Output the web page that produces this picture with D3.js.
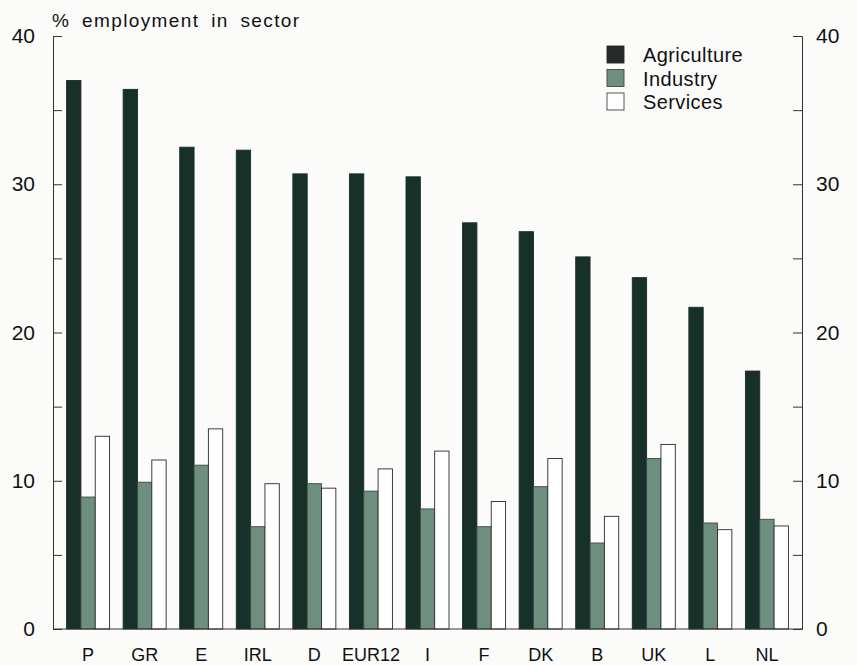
<!DOCTYPE html>
<html>
<head>
<meta charset="utf-8">
<script src="https://cdn.jsdelivr.net/npm/d3@7"></script>
<style>
  html, body { margin: 0; padding: 0; background: #fbfbfa; }
  svg { display: block; font-family: Arial, "Liberation Sans", sans-serif; }
</style>
</head>
<body>
<svg id="chart" width="857" height="665"></svg>
<script>
// Employment share by sector, EU member states
const countries   = ["P", "GR", "E", "IRL", "D", "EUR12", "I", "F", "DK", "B", "UK", "L", "NL"];
const agriculture = [37.0, 36.4, 32.5, 32.3, 30.7, 30.7, 30.5, 27.4, 26.8, 25.1, 23.7, 21.7, 17.4];
const industry    = [8.9, 9.9, 11.05, 6.9, 9.8, 9.3, 8.1, 6.9, 9.6, 5.8, 11.5, 7.15, 7.4];
const services    = [13.0, 11.4, 13.5, 9.8, 9.5, 10.8, 12.0, 8.6, 11.5, 7.6, 12.45, 6.7, 6.95];
const seriesNames = ["Agriculture", "Industry", "Services"];
const majorTicks  = [0, 10, 20, 30, 40];
const minorTicks  = [5, 15, 25, 35];

const seriesValues = [agriculture, industry, services];
const fills   = ["#17302a", "#6e8f80", "#ffffff"];
const strokes = ["#1d2a25", "#3a4a42", "#2a2a2a"];

const svg = d3.select("#chart");
const plotLeft = 53, plotRight = 802, plotTop = 36, plotBottom = 629;

const x = d3.scaleBand().domain(countries).range([plotLeft, plotRight]).padding(0.24);
const xs = d3.scaleBand().domain(seriesNames).range([0, x.bandwidth()]);
const y = d3.scaleLinear().domain([0, 40]).range([plotBottom, plotTop]);

// bars
const groups = svg.append("g").selectAll("g")
  .data(countries)
  .join("g")
  .attr("transform", d => `translate(${x(d)},0)`);

groups.selectAll("rect")
  .data((c, i) => seriesNames.map((s, k) => ({ s, k, v: seriesValues[k][i] })))
  .join("rect")
  .attr("x", d => xs(d.s))
  .attr("width", xs.bandwidth())
  .attr("y", d => y(d.v))
  .attr("height", d => y(0) - y(d.v))
  .attr("fill", d => fills[d.k])
  .attr("stroke", d => strokes[d.k])
  .attr("stroke-width", 0.9);

// axes: ticks point inward on both sides
const axisColor = "#333";
const tickLen = 9;

const leftAxis = d3.axisLeft(y).tickValues(majorTicks).tickSize(-tickLen).tickPadding(18).tickFormat(d3.format("d"));
const rightAxis = d3.axisRight(y).tickValues(majorTicks).tickSize(-tickLen).tickPadding(14).tickFormat(d3.format("d"));
const leftMinor = d3.axisLeft(y).tickValues(minorTicks).tickSize(-tickLen).tickFormat("");
const rightMinor = d3.axisRight(y).tickValues(minorTicks).tickSize(-tickLen).tickFormat("");

function styleAxis(g, fs) {
  g.select(".domain").attr("stroke", axisColor).attr("stroke-width", 1);
  g.selectAll(".tick line").attr("stroke", axisColor).attr("stroke-width", 1);
  g.selectAll(".tick text").attr("fill", "#111").style("font-size", fs + "px")
    .attr("font-family", "Arial, 'Liberation Sans', sans-serif");
}

svg.append("g").attr("transform", `translate(${plotLeft},0)`).call(leftAxis).call(g => styleAxis(g, 21));
svg.append("g").attr("transform", `translate(${plotLeft},0)`).call(leftMinor).call(g => styleAxis(g, 21)).select(".domain").remove();
svg.append("g").attr("transform", `translate(${plotRight},0)`).call(rightAxis).call(g => styleAxis(g, 21));
svg.append("g").attr("transform", `translate(${plotRight},0)`).call(rightMinor).call(g => styleAxis(g, 21)).select(".domain").remove();

// baseline
svg.append("line")
  .attr("x1", plotLeft).attr("x2", plotRight)
  .attr("y1", y(0)).attr("y2", y(0))
  .attr("stroke", axisColor).attr("stroke-width", 1);

// category labels
const bottomAxis = d3.axisBottom(x).tickSize(0).tickPadding(19);
svg.append("g").attr("transform", `translate(0,${plotBottom})`).call(bottomAxis)
  .call(g => g.select(".domain").remove())
  .call(g => g.selectAll(".tick text").attr("fill", "#111").style("font-size", "18px")
    .attr("font-family", "Arial, 'Liberation Sans', sans-serif"));

// title
svg.append("text")
  .attr("x", 52).attr("y", 27)
  .attr("fill", "#111")
  .style("font-size", "19px")
  .style("letter-spacing", "1.4px")
  .style("word-spacing", "5px")
  .text("% employment in sector");

// legend
const legend = svg.append("g").attr("transform", "translate(607,46)");
const legendItems = legend.selectAll("g")
  .data(seriesNames)
  .join("g")
  .attr("transform", (d, i) => `translate(0,${i * 23.5})`);
legendItems.append("rect")
  .attr("width", 17).attr("height", 17)
  .attr("fill", (d, i) => i === 0 ? "#282a29" : fills[i])
  .attr("stroke", (d, i) => i === 2 ? "#444" : strokes[i])
  .attr("stroke-width", 0.9);
legendItems.append("text")
  .attr("x", 36).attr("y", 16)
  .attr("fill", "#111")
  .style("font-size", "20px")
  .style("letter-spacing", "0.4px")
  .text(d => d);
</script>
</body>
</html>
